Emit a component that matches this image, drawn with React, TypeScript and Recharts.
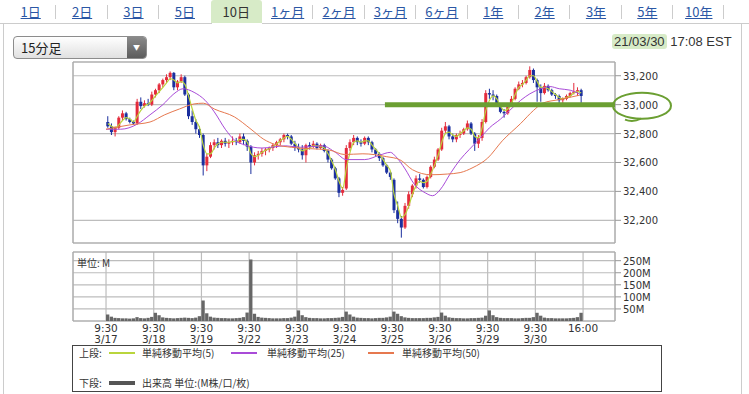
import {
  ComposedChart,
  Bar,
  Line,
  XAxis,
  YAxis,
  CartesianGrid,
  ReferenceLine,
  ReferenceArea,
} from 'recharts'

const tabs = ['1日', '2日', '3日', '5日', '10日', '1ヶ月', '2ヶ月', '3ヶ月', '6ヶ月', '1年', '2年', '3年', '5年', '10年']
const activeTab = '10日'

const dayLabels = ['3/17', '3/18', '3/19', '3/22', '3/23', '3/24', '3/25', '3/26', '3/29', '3/30']
const sessionTicks = [0, 26, 52, 78, 104, 130, 156, 182, 208, 234, 260]
const priceTicks = [32200, 32400, 32600, 32800, 33000, 33200]
const volTicks = [50, 100, 150, 200, 250]

// candles [open, high, low, close], 13 per session
const mar17 = [
  [32880, 32920, 32840, 32850], [32850, 32870, 32790, 32810], [32810, 32850, 32780, 32840], [32840, 32920, 32830, 32910],
  [32910, 32960, 32890, 32940], [32940, 32950, 32890, 32900], [32900, 32910, 32870, 32880], [32880, 32890, 32860, 32870],
  [32870, 33040, 32860, 33020], [33020, 33050, 32970, 32990], [32990, 33030, 32980, 33010], [33010, 33040, 32990, 33000],
  [33000, 33090, 32990, 33070],
]
const mar18 = [
  [33070, 33110, 33050, 33100], [33100, 33150, 33080, 33140], [33140, 33180, 33120, 33170], [33170, 33210, 33150, 33190],
  [33190, 33230, 33170, 33220], [33220, 33225, 33100, 33120], [33120, 33170, 33100, 33160], [33160, 33210, 33150, 33190],
  [33190, 33200, 33060, 33070], [33070, 33080, 32900, 32920], [32920, 32960, 32860, 32880], [32880, 32900, 32800, 32830],
  [32830, 32850, 32770, 32790],
]
const mar19 = [
  [32790, 32800, 32510, 32580], [32580, 32660, 32540, 32640], [32640, 32740, 32630, 32720], [32720, 32760, 32690, 32740],
  [32740, 32770, 32700, 32720], [32720, 32760, 32700, 32750], [32750, 32770, 32710, 32730], [32730, 32760, 32700, 32740],
  [32740, 32780, 32720, 32750], [32750, 32770, 32720, 32740], [32740, 32800, 32730, 32780], [32780, 32800, 32720, 32750],
  [32750, 32760, 32680, 32710],
]
const mar22 = [
  [32710, 32720, 32520, 32600], [32600, 32670, 32580, 32650], [32650, 32680, 32620, 32660], [32660, 32700, 32640, 32680],
  [32680, 32700, 32650, 32690], [32690, 32710, 32670, 32700], [32700, 32730, 32680, 32720], [32720, 32750, 32700, 32740],
  [32740, 32770, 32720, 32760], [32760, 32800, 32740, 32790], [32790, 32800, 32760, 32780], [32780, 32790, 32720, 32730],
  [32730, 32750, 32680, 32700],
]
const mar23 = [
  [32700, 32730, 32670, 32690], [32690, 32720, 32620, 32650], [32650, 32730, 32600, 32720], [32720, 32740, 32690, 32710],
  [32710, 32750, 32700, 32730], [32730, 32740, 32690, 32700], [32700, 32730, 32690, 32720], [32720, 32730, 32670, 32680],
  [32680, 32690, 32600, 32620], [32620, 32630, 32550, 32560], [32560, 32570, 32480, 32490], [32490, 32500, 32360, 32390],
  [32390, 32430, 32370, 32410],
]
const mar24 = [
  [32420, 32720, 32410, 32700], [32700, 32760, 32680, 32740], [32740, 32790, 32720, 32770], [32770, 32780, 32720, 32740],
  [32740, 32760, 32710, 32730], [32730, 32780, 32720, 32770], [32770, 32780, 32720, 32740], [32740, 32750, 32670, 32690],
  [32690, 32700, 32640, 32660], [32660, 32670, 32610, 32630], [32630, 32640, 32570, 32580], [32580, 32590, 32520, 32530],
  [32530, 32540, 32480, 32500],
]
const mar25 = [
  [32480, 32490, 32250, 32270], [32270, 32330, 32180, 32210], [32210, 32230, 32080, 32150], [32150, 32320, 32140, 32300],
  [32300, 32400, 32280, 32380], [32380, 32450, 32360, 32440], [32440, 32510, 32420, 32490], [32490, 32520, 32460, 32480],
  [32480, 32490, 32420, 32430], [32430, 32510, 32420, 32500], [32500, 32580, 32490, 32570], [32570, 32640, 32560, 32620],
  [32620, 32700, 32610, 32690],
]
const mar26 = [
  [32690, 32840, 32680, 32820], [32820, 32880, 32800, 32850], [32850, 32860, 32760, 32780], [32780, 32800, 32740, 32760],
  [32760, 32800, 32740, 32790], [32790, 32820, 32770, 32800], [32800, 32840, 32790, 32830], [32830, 32890, 32820, 32870],
  [32870, 32880, 32790, 32800], [32800, 32810, 32680, 32730], [32730, 32790, 32700, 32770], [32770, 32900, 32750, 32880],
  [32880, 33100, 32870, 33080],
]
const mar29 = [
  [33080, 33110, 33040, 33070], [33070, 33100, 33030, 33060], [33060, 33070, 32990, 33000], [33000, 33010, 32940, 32950],
  [32950, 32970, 32910, 32940], [32940, 33010, 32930, 33000], [33000, 33060, 32990, 33040], [33040, 33120, 33030, 33110],
  [33110, 33160, 33100, 33140], [33140, 33170, 33120, 33150], [33150, 33200, 33140, 33190], [33190, 33265, 33180, 33240],
  [33240, 33250, 33150, 33170],
]
const mar30 = [
  [33170, 33180, 33020, 33120], [33120, 33140, 33020, 33080], [33080, 33150, 33070, 33130], [33130, 33140, 33090, 33100],
  [33100, 33110, 33060, 33070], [33070, 33080, 33040, 33060], [33060, 33070, 33010, 33030], [33030, 33050, 33010, 33040],
  [33040, 33070, 33030, 33060], [33060, 33090, 33050, 33080], [33080, 33150, 33070, 33090], [33090, 33120, 33060, 33100],
  [33100, 33110, 33000, 33060],
]
const candlesByDay = [mar17, mar18, mar19, mar22, mar23, mar24, mar25, mar26, mar29, mar30]

const ma5ByDay = [
  [32870, 32850, 32840, 32860, 32890, 32910, 32900, 32880, 32920, 32960, 32990, 33005, 33030],
  [33060, 33090, 33120, 33150, 33180, 33170, 33150, 33160, 33140, 33060, 32970, 32890, 32840],
  [32720, 32660, 32660, 32700, 32730, 32740, 32740, 32740, 32745, 32745, 32760, 32760, 32740],
  [32660, 32640, 32650, 32670, 32685, 32695, 32710, 32730, 32750, 32770, 32780, 32760, 32730],
  [32700, 32680, 32690, 32700, 32715, 32715, 32710, 32700, 32660, 32610, 32550, 32470, 32420],
  [32560, 32670, 32740, 32750, 32740, 32750, 32750, 32720, 32690, 32660, 32620, 32580, 32540],
  [32380, 32300, 32220, 32240, 32300, 32380, 32440, 32470, 32460, 32470, 32520, 32580, 32650],
  [32740, 32800, 32810, 32790, 32780, 32800, 32820, 32840, 32830, 32780, 32770, 32840, 32960],
  [33030, 33060, 33040, 32990, 32960, 32970, 33010, 33070, 33120, 33140, 33170, 33200, 33200],
  [33160, 33120, 33120, 33110, 33090, 33070, 33050, 33040, 33050, 33060, 33080, 33090, 33080],
]

// volume in millions
const volByDay = [
  [27, 18, 13, 12, 11, 11, 10, 11, 16, 12, 11, 13, 17],
  [34, 24, 15, 13, 12, 11, 12, 13, 14, 13, 12, 14, 20],
  [85, 32, 18, 14, 13, 12, 12, 11, 11, 12, 13, 16, 35],
  [255, 30, 17, 14, 13, 12, 11, 11, 11, 12, 12, 14, 18],
  [44, 24, 16, 13, 12, 12, 11, 11, 12, 12, 13, 14, 17],
  [39, 27, 18, 14, 13, 12, 12, 11, 12, 13, 13, 15, 18],
  [39, 30, 20, 15, 13, 12, 12, 12, 12, 13, 13, 15, 17],
  [35, 22, 15, 13, 12, 12, 11, 11, 12, 12, 13, 14, 22],
  [44, 24, 16, 13, 12, 12, 12, 11, 11, 12, 13, 13, 16],
  [34, 22, 14, 12, 12, 11, 11, 11, 11, 12, 13, 16, 34],
]

const ma25Points = [
  [0, 32830], [8, 32830], [17, 32865], [24, 32930], [31, 33000], [37, 33075], [42, 33110], [48, 33085],
  [54, 33030], [59, 32950], [65, 32830], [70, 32755], [76, 32720], [85, 32700], [98, 32715], [106, 32705],
  [118, 32715], [125, 32670], [131, 32620], [141, 32620], [149, 32650], [155, 32670], [158, 32640],
  [163, 32555], [168, 32450], [174, 32390], [178, 32370], [182, 32410], [188, 32530], [193, 32620],
  [198, 32690], [204, 32770], [209, 32840], [215, 32900], [220, 32960], [226, 33030], [231, 33075],
  [237, 33110], [242, 33125], [247, 33110], [253, 33100], [258, 33075],
]
const ma50Points = [
  [0, 32830], [13, 32860], [24, 32880], [32, 32930], [40, 32970], [48, 33005], [53, 33010], [59, 32970],
  [70, 32915], [79, 32830], [86, 32760], [92, 32725], [101, 32705], [122, 32685], [130, 32655], [140, 32660],
  [153, 32640], [160, 32620], [167, 32550], [177, 32515], [186, 32520], [193, 32530], [200, 32565],
  [208, 32630], [216, 32750], [226, 32870], [233, 32960], [238, 33010], [247, 33035], [258, 33065],
]

const bars = candlesByDay.flatMap((day, d) =>
  day.map(([o, h, l, c], k) => ({
    t: d * 26 + 2 * k + 1,
    o, h, l, c,
    m5: ma5ByDay[d][k],
    v: volByDay[d][k],
  })),
)
const ma25 = ma25Points.map(([t, v]) => ({ t, v }))
const ma50 = ma50Points.map(([t, v]) => ({ t, v }))

const UP = '#e42c3c'
const DOWN = '#1b2f9e'
const GRID = '#bdbdbd'
const MARK = '#6b9f32'
const X_DOMAIN: [number, number] = [-18, 277.4]
const NUM_FONT = "'DejaVu Sans', sans-serif"
const JP_FONT = "'Noto Sans CJK JP', 'DejaVu Sans', sans-serif"

const Candle = (props: any) => {
  const { x, y, width, height, payload } = props
  const { o, h, l, c } = payload
  const color = c >= o ? UP : DOWN
  const top = Math.min(y, y + height)
  const bot = Math.max(y, y + height)
  const py = (v: number) => top + ((h - v) / (h - l || 1)) * (bot - top)
  const cx = x + width / 2
  const bTop = py(Math.max(o, c))
  const bBot = py(Math.min(o, c))
  return (
    <g>
      <line x1={cx} x2={cx} y1={top} y2={bot} stroke={color} strokeWidth={1} />
      <rect x={cx - 1.5} y={bTop} width={3} height={Math.max(1, bBot - bTop)} fill={color} />
    </g>
  )
}

const PriceTick = ({ x, y, payload }: any) => (
  <g>
    <text x={x} y={y} dy={4} fontSize={10} fill="#333" fontFamily={NUM_FONT}>
      {payload.value.toLocaleString('en-US')}
    </text>
    {payload.value === 33000 && (
      <g fill="none" stroke={MARK} strokeWidth={2}>
        <ellipse cx={x + 19} cy={y + 1} rx={29} ry={13} />
        <path d={`M ${x + 2} ${y + 15} q 8 3 16 -1`} />
      </g>
    )}
  </g>
)

const VolTick = ({ x, y, payload }: any) => (
  <text x={x} y={y} dy={4} fontSize={10} fill="#333" fontFamily={NUM_FONT}>
    {payload.value}M
  </text>
)

const SessionTick = ({ x, y, payload }: any) => {
  const i = sessionTicks.indexOf(payload.value)
  const close = i >= dayLabels.length
  return (
    <g fontSize={10.5} fill="#333" fontFamily={NUM_FONT} textAnchor="middle">
      <text x={x} y={y + 3}>{close ? '16:00' : '9:30'}</text>
      {!close && <text x={x} y={y + 14}>{dayLabels[i]}</text>}
    </g>
  )
}

function Tabs() {
  return (
    <div style={{ position: 'absolute', left: 5, top: 0, display: 'flex', fontFamily: JP_FONT, fontSize: 13 }}>
      {tabs.map((tab, i) => {
        const active = tab === activeTab
        return (
          <div
            key={tab}
            style={{
              width: 51.4,
              height: 23,
              lineHeight: '24px',
              textAlign: 'center',
              position: 'relative',
              background: active ? '#d7ebc7' : 'transparent',
              borderRadius: active ? '3px 3px 0 0' : 0,
              color: active ? '#333' : '#2b57a5',
              textDecoration: active ? 'none' : 'underline',
            }}
          >
            {tab}
            {!active && tabs[i + 1] !== activeTab && (
              <span style={{ position: 'absolute', right: 0, top: 5, width: 1, height: 14, background: '#ccc' }} />
            )}
          </div>
        )
      })}
    </div>
  )
}

function Legend() {
  const item = (left: number, top: number, text: string) => (
    <span style={{ position: 'absolute', left, top, lineHeight: '12px' }}>{text}</span>
  )
  const swatch = (left: number, top: number, color: string, h: number) => (
    <span style={{ position: 'absolute', left, top: top - h / 2, width: 26, height: h, background: color }} />
  )
  return (
    <div
      style={{
        position: 'absolute',
        left: 72,
        top: 345,
        width: 590,
        height: 47,
        border: '1px solid #444',
        boxSizing: 'border-box',
        fontFamily: JP_FONT,
        fontSize: 10,
        color: '#333',
      }}
    >
      {item(6, 1, '上段:')}
      {swatch(36, 7, '#b9d53c', 1.5)}
      {item(69, 1, '単純移動平均(5)')}
      {swatch(158, 7, '#a94bd8', 1.5)}
      {item(194, 1, '単純移動平均(25)')}
      {swatch(295, 7, '#e6784f', 1.5)}
      {item(329, 1, '単純移動平均(50)')}
      {item(6, 31, '下段:')}
      {swatch(36, 37, '#555', 4)}
      {item(69, 31, '出来高 単位:(M株/口/枚)')}
    </div>
  )
}

export default function App() {
  return (
    <div style={{ position: 'relative', width: 749, height: 394, background: '#fff', overflow: 'hidden' }}>
      <style>{'body{margin:0}'}</style>
      <Tabs />
      <div style={{ position: 'absolute', left: 0, top: 23, width: 212, height: 1, background: '#ccc' }} />
      <div style={{ position: 'absolute', left: 262, top: 23, width: 487, height: 1, background: '#ccc' }} />
      <div style={{ position: 'absolute', left: 3, top: 23, width: 1, height: 371, background: '#ccc' }} />
      <div style={{ position: 'absolute', left: 741, top: 23, width: 1, height: 371, background: '#ccc' }} />

      <div
        style={{
          position: 'absolute',
          left: 13,
          top: 36,
          width: 134,
          height: 23,
          border: '1px solid #8c8c8c',
          borderRadius: 4,
          boxSizing: 'border-box',
          background: 'linear-gradient(#ffffff, #e0e0e0)',
          fontFamily: JP_FONT,
          fontSize: 13,
          color: '#222',
          overflow: 'hidden',
        }}
      >
        <span style={{ position: 'absolute', left: 7, top: 1, lineHeight: '20px' }}>15分足</span>
        <div
          style={{
            position: 'absolute',
            right: 0,
            top: 0,
            width: 19,
            height: '100%',
            background: 'linear-gradient(#8a8a8a, #5c5c5c)',
            color: '#fff',
            fontSize: 7,
            lineHeight: '21px',
            textAlign: 'center',
          }}
        >
          ▼
        </div>
      </div>

      <div
        style={{
          position: 'absolute',
          left: 612,
          top: 33,
          fontFamily: "'Liberation Sans', Arial, sans-serif",
          fontSize: 13,
          color: '#333',
          lineHeight: '18px',
        }}
      >
        <span style={{ background: '#d7ebc7', padding: '0 2px', borderRadius: 3 }}>21/03/30</span> 17:08 EST
      </div>

      <div style={{ position: 'absolute', left: 0, top: 50 }}>
        <ComposedChart width={749} height={200} data={bars} margin={{ top: 12, right: 74, bottom: 7, left: 73 }}>
          <CartesianGrid stroke={GRID} strokeWidth={1.2} />
          <XAxis
            type="number"
            dataKey="t"
            domain={X_DOMAIN}
            ticks={sessionTicks}
            interval={0}
            allowDataOverflow
            height={0}
            tick={false}
            tickLine={false}
            axisLine={false}
          />
          <YAxis
            orientation="right"
            type="number"
            domain={[32043, 33295]}
            ticks={priceTicks}
            interval={0}
            allowDataOverflow
            width={60}
            axisLine={false}
            tickLine={{ stroke: '#999' }}
            tickSize={6}
            tick={<PriceTick />}
          />
          <ReferenceArea x1={X_DOMAIN[0]} x2={X_DOMAIN[1]} y1={32043} y2={33295} fill="none" stroke="#a8a8a8" />
          <Bar dataKey={(d: any) => [d.l, d.h]} barSize={3} shape={<Candle />} isAnimationActive={false} />
          <Line dataKey="m5" stroke="#b9d53c" strokeWidth={1.2} dot={false} type="monotone" isAnimationActive={false} />
          <Line data={ma25} dataKey="v" stroke="#a94bd8" strokeWidth={1} dot={false} type="monotone" isAnimationActive={false} />
          <Line data={ma50} dataKey="v" stroke="#e6784f" strokeWidth={1} dot={false} type="monotone" isAnimationActive={false} />
          <ReferenceLine
            segment={[{ x: 152, y: 33000 }, { x: X_DOMAIN[1], y: 33000 }]}
            stroke={MARK}
            strokeWidth={5}
            ifOverflow="visible"
          />
        </ComposedChart>
      </div>

      <div style={{ position: 'absolute', left: 0, top: 240 }}>
        <ComposedChart width={749} height={115} data={bars} margin={{ top: 12, right: 74, bottom: 4, left: 73 }}>
          <CartesianGrid stroke={GRID} strokeWidth={1.2} />
          <XAxis
            type="number"
            dataKey="t"
            domain={X_DOMAIN}
            ticks={sessionTicks}
            interval={0}
            allowDataOverflow
            height={30}
            tickLine={false}
            axisLine={false}
            tick={<SessionTick />}
          />
          <YAxis
            orientation="right"
            type="number"
            domain={[0, 286]}
            ticks={volTicks}
            interval={0}
            allowDataOverflow
            width={60}
            axisLine={false}
            tickLine={{ stroke: '#999' }}
            tickSize={6}
            tick={<VolTick />}
          />
          <ReferenceArea x1={X_DOMAIN[0]} x2={X_DOMAIN[1]} y1={0} y2={286} fill="none" stroke="#a8a8a8" />
          <Bar dataKey="v" fill="#666" barSize={4} isAnimationActive={false} />
        </ComposedChart>
      </div>
      <div style={{ position: 'absolute', left: 77, top: 255, fontFamily: JP_FONT, fontSize: 10, color: '#333' }}>
        単位: M
      </div>

      <Legend />
    </div>
  )
}
